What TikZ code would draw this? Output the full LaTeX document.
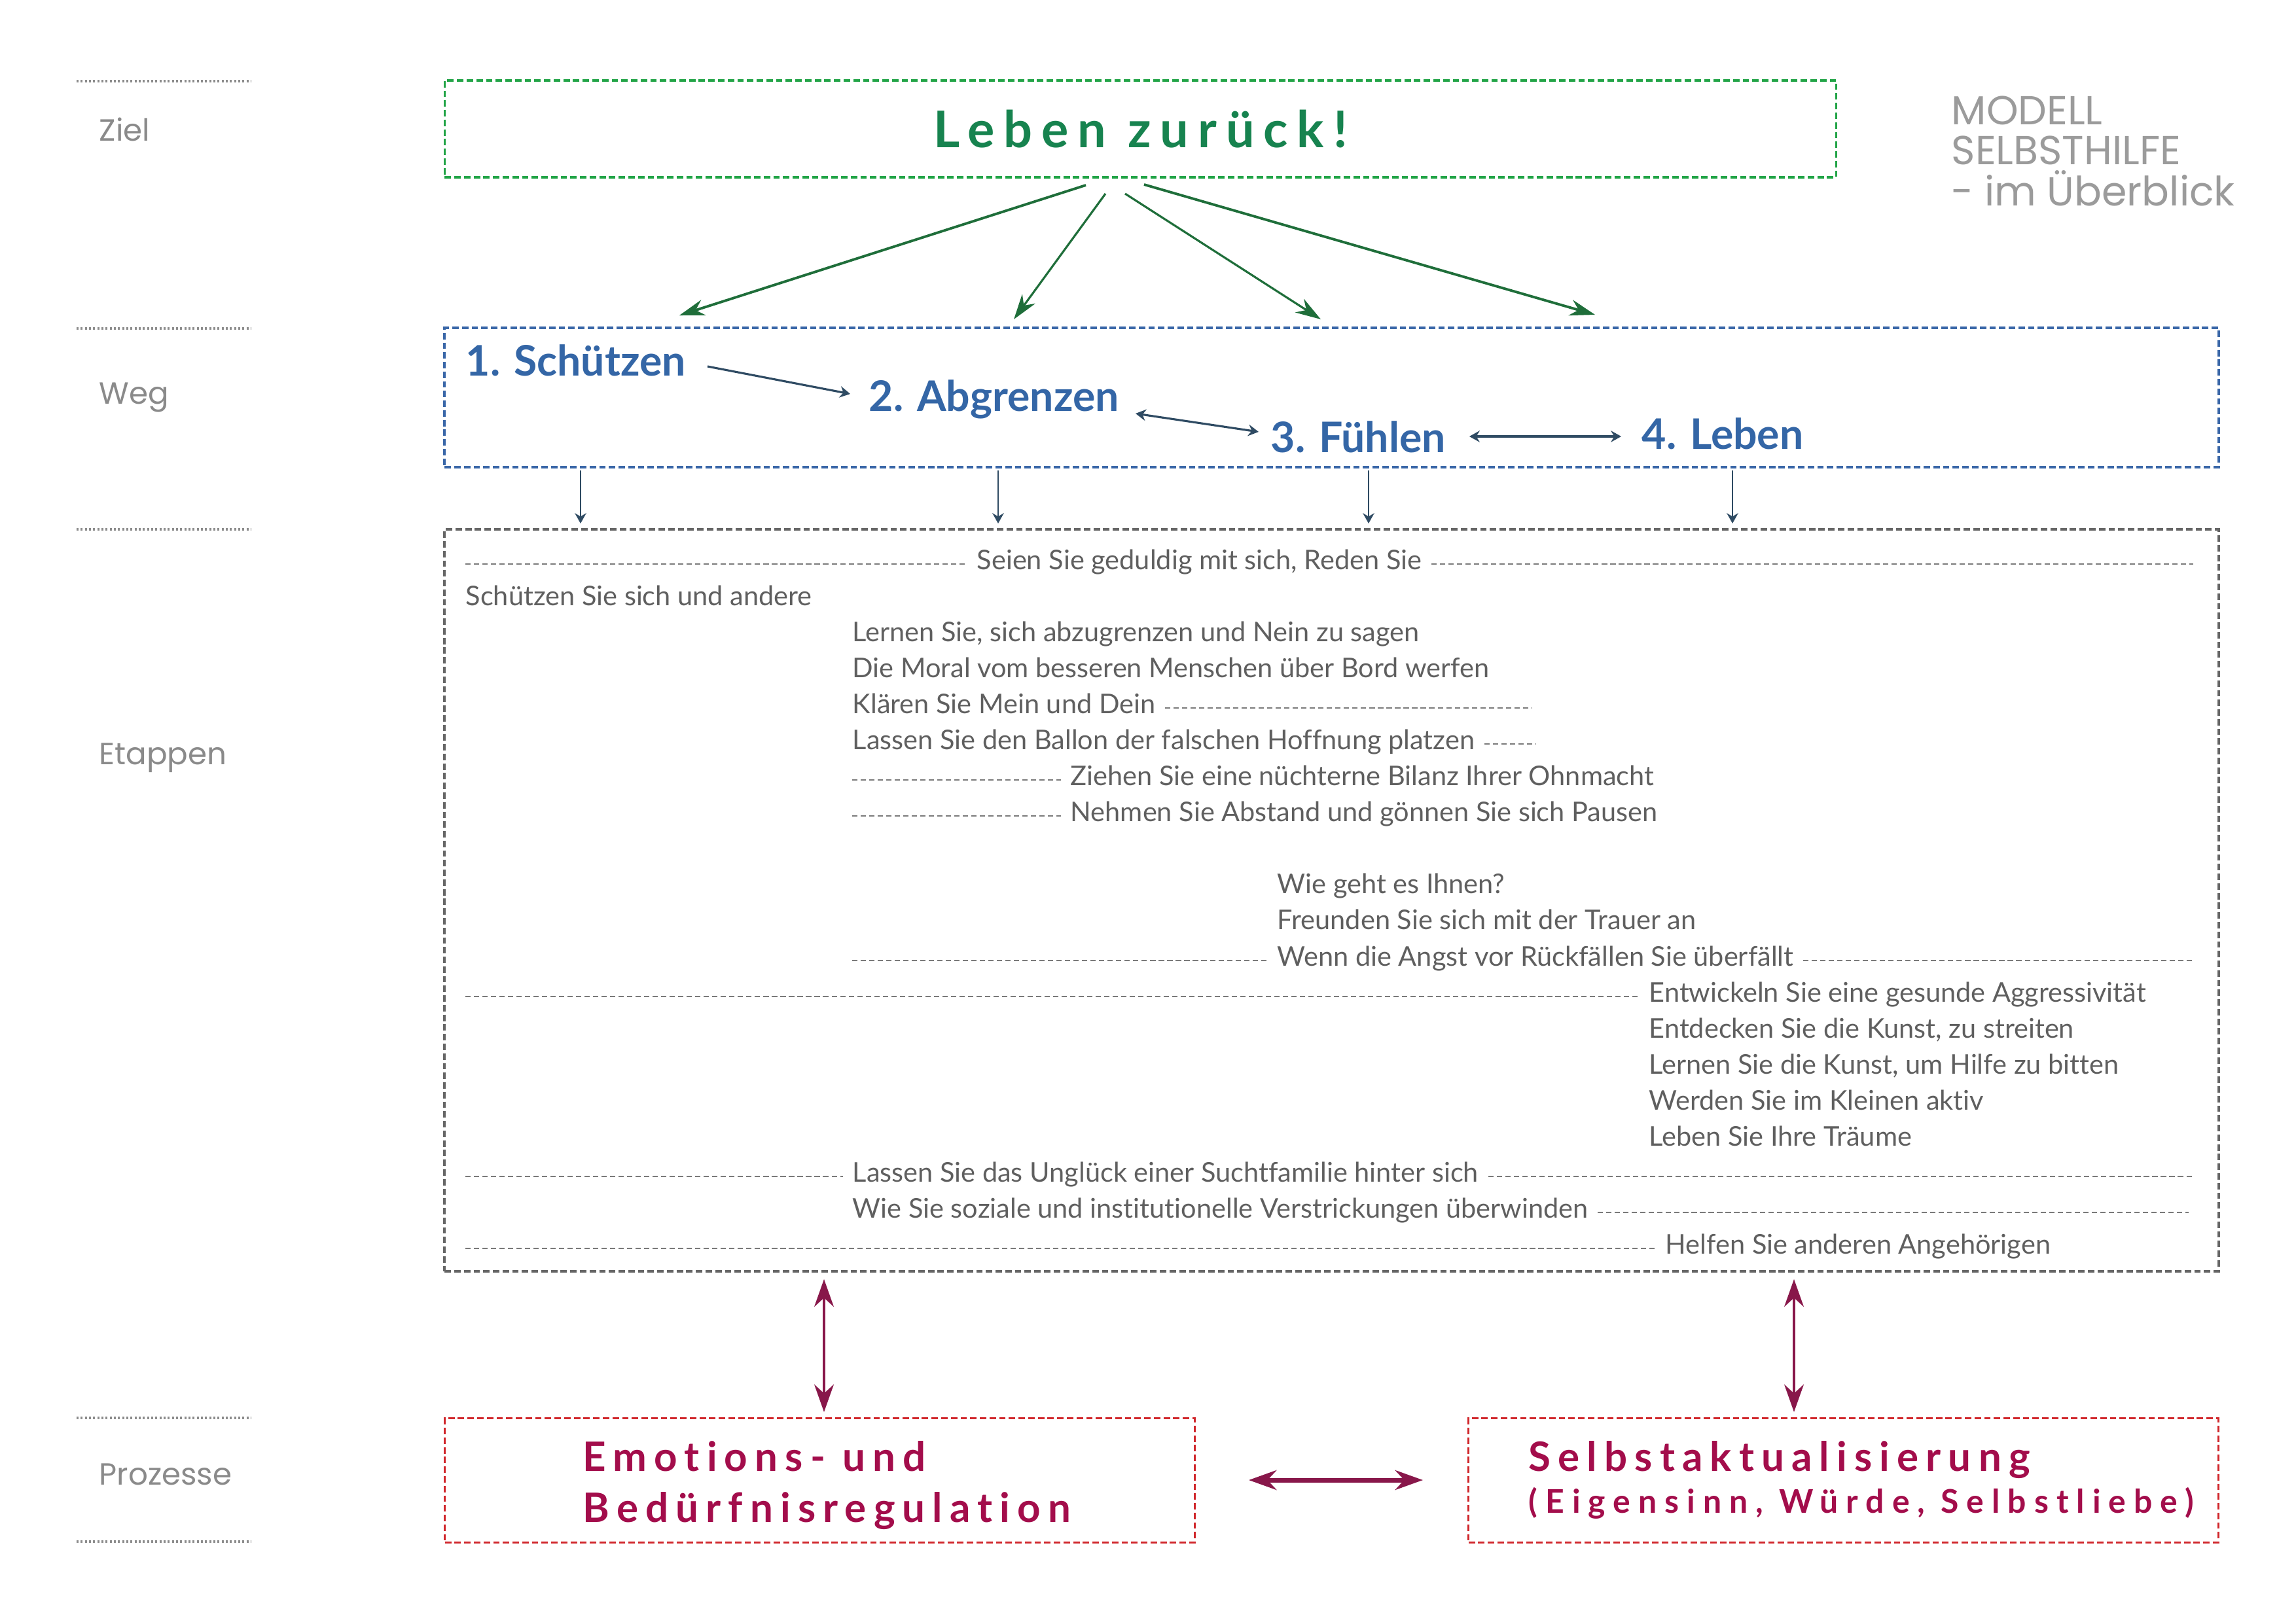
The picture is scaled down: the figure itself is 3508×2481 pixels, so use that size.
\documentclass[tikz,border=0pt]{standalone}
\usepackage{fontspec}
\usetikzlibrary{arrows.meta}
\setmainfont{Lato}[Ligatures=NoCommon]
\newfontfamily\labfont{Poppins}[Ligatures=NoCommon]
\newfontfamily\titlefont{Lato}[LetterSpace=18,Ligatures=NoCommon]
\newfontfamily\redfont{Lato}[LetterSpace=18,Ligatures=NoCommon]
\newfontfamily\redsmallfont{Lato}[LetterSpace=24,Ligatures=NoCommon]
\newcommand\fsz[1]{\fontsize{#1}{#1}\selectfont}
\definecolor{labgray}{HTML}{8A8A8A}
\definecolor{modgray}{HTML}{9B9B9B}
\definecolor{boxgreen}{HTML}{22A447}
\definecolor{arrgreen}{HTML}{1F6E3A}
\definecolor{titlegreen}{HTML}{17834F}
\definecolor{boxblue}{HTML}{3A67A8}
\definecolor{txtblue}{HTML}{3466A6}
\definecolor{arrslate}{HTML}{2F4B63}
\definecolor{boxgray}{HTML}{666666}
\definecolor{bodytxt}{HTML}{5F5F5F}
\definecolor{dashgray}{HTML}{7A7A7A}
\definecolor{boxred}{HTML}{D0262B}
\definecolor{txtred}{HTML}{A30D4B}
\definecolor{arrmag}{HTML}{88174A}
\definecolor{dotgray}{HTML}{8C8C8C}
\begin{document}
\begin{tikzpicture}[x=0.01cm,y=-0.01cm,
  body/.style={anchor=mid west, inner sep=0pt, text=bodytxt, font=\fsz{11.8pt}},
  dline/.style={draw=dashgray, line width=0.6pt, dash pattern=on 2.3pt off 1.4pt},
  sidelab/.style={anchor=base west, inner sep=0pt, text=labgray, font=\labfont\fsz{13.3pt}},
  sepline/.style={draw=dotgray, line width=0.9pt, dash pattern=on 0.9pt off 0.9pt},
  dbox/.style={line width=1pt, dash pattern=on 2.8pt off 1.4pt, inner sep=0pt, fill=none},
  wegtxt/.style={anchor=base west, inner sep=0pt, text=txtblue, font=\bfseries\fsz{18.3pt}},
  redtxt/.style={anchor=base west, inner sep=0pt, text=txtred, font=\redfont\bfseries\fsz{17.6pt}},
  modtxt/.style={anchor=base west, inner sep=0pt, text=modgray, font=\labfont\fsz{17.6pt}},
  greenarr/.style={draw=arrgreen, line width=1.1pt, -{Stealth[length=11pt,width=7pt]}},
  slatetip/.tip={Stealth[length=4.5pt,width=5pt,inset=1.5pt]},
  slatearr/.style={draw=arrslate, line width=0.7pt, -slatetip},
  slatedbl/.style={draw=arrslate, line width=0.9pt, slatetip-slatetip},
  magtip/.tip={Stealth[length=12pt,width=8.5pt]},
  magarr/.style={draw=arrmag, line width=1pt, magtip-magtip}
]
\useasboundingbox (0,0) rectangle (3508,2481);

% left separators and labels
\foreach \yy in {124,502,809,2167,2356}{
  \draw[sepline] (117,\yy) -- (384,\yy);
}
\node[sidelab] (lziel) at (151,215) {Ziel};
\node[sidelab] (lweg) at (151,617) {Weg};
\node[sidelab] (letap) at (151,1168) {Etappen};
\node[sidelab] (lproz) at (151,2269) {Prozesse};

% title top right
\node[modtxt] (mod1) at (2981,190) {MODELL};
\node[modtxt] (mod2) at (2981,251) {SELBSTHILFE};
\node[modtxt] (mod3) at (2981,314) {- im Überblick};

% boxes
\node[dbox, draw=boxgreen, minimum width=21.25cm, minimum height=1.48cm, text=titlegreen, font=\titlefont\bfseries\fsz{22pt}] (ziel) at (1742.5,197) {Leben zurück!};
\node[dbox, draw=boxblue, minimum width=27.09cm, minimum height=2.13cm] (weg) at (2034.5,607.5) {};
\node[dbox, draw=boxgray, minimum width=27.09cm, minimum height=11.33cm] (etap) at (2034.5,1376) {};
\node[dbox, draw=boxred, minimum width=11.45cm, minimum height=1.90cm] (emo) at (1252.5,2262.5) {};
\node[dbox, draw=boxred, minimum width=11.45cm, minimum height=1.90cm] (selbst) at (2816.5,2262.5) {};

% Weg texts
\node[wegtxt] (s1) at (711,574) {1. Schützen};
\node[wegtxt] (s2) at (1327,628) {2. Abgrenzen};
\node[wegtxt] (s3) at (1941,691) {3. Fühlen};
\node[wegtxt] (s4) at (2508,686) {4. Leben};

\coordinate (a12s) at (1081,560);
\coordinate (a12e) at (1299,602);
\coordinate (a23s) at (1735,632);
\coordinate (a23e) at (1923,660);
\coordinate (a34s) at (2245,667);
\coordinate (a34e) at (2477,667);
\draw[slatearr, line width=0.9pt] (a12s) -- (a12e);
\draw[slatedbl] (a23s) -- (a23e);
\draw[slatedbl, line width=1.4pt] (a34s) -- (a34e);

% green arrows
\coordinate (g1s) at (1659,283);
\coordinate (g2s) at (1689,296);
\coordinate (g3s) at (1719,296);
\coordinate (g4s) at (1748,282);
\coordinate (g1e) at (1038,482);
\coordinate (g2e) at (1549,488);
\coordinate (g3e) at (2018,488);
\coordinate (g4e) at (2437,481);
\draw[greenarr] (g1s) -- (g1e);
\draw[greenarr, line width=0.9pt] (g2s) -- (g2e);
\draw[greenarr, line width=0.9pt] (g3s) -- (g3e);
\draw[greenarr] (g4s) -- (g4e);

% down arrows
\foreach \xx/\nm in {887/d1,1525/d2,2091/d3,2647/d4}{
  \coordinate (\nm s) at (\xx,719);
  \coordinate (\nm e) at (\xx,800);
  \draw[slatearr, line width=0.6pt] (\nm s) -- (\nm e);
}

% Etappen texts
\node[body] (t0) at (1492,862) {Seien Sie geduldig mit sich, Reden Sie};
\draw[dline] (711,862) -- ([xshift=-4pt]t0.mid west);
\draw[dline] ([xshift=4pt]t0.mid east) -- (3351,862);
\node[body] (t1) at (711,917) {Schützen Sie sich und andere};
\node[body] (t2) at (1302,972) {Lernen Sie, sich abzugrenzen und Nein zu sagen};
\node[body] (t3) at (1302,1027) {Die Moral vom besseren Menschen über Bord werfen};
\node[body] (t4) at (1302,1082) {Klären Sie Mein und Dein};
\draw[dline] ([xshift=4pt]t4.mid east) -- (2340,1082);
\node[body] (t5) at (1302,1137) {Lassen Sie den Ballon der falschen Hoffnung platzen};
\draw[dline] ([xshift=4pt]t5.mid east) -- (2347,1137);
\node[body] (t6) at (1635,1192) {Ziehen Sie eine nüchterne Bilanz Ihrer Ohnmacht};
\draw[dline] (1302,1192) -- ([xshift=-4pt]t6.mid west);
\node[body] (t7) at (1635,1247) {Nehmen Sie Abstand und gönnen Sie sich Pausen};
\draw[dline] (1302,1247) -- ([xshift=-4pt]t7.mid west);
\node[body] (t9) at (1951,1357) {Wie geht es Ihnen?};
\node[body] (t10) at (1951,1412) {Freunden Sie sich mit der Trauer an};
\node[body] (t11) at (1951,1468) {Wenn die Angst vor Rückfällen Sie überfällt};
\draw[dline] (1302,1468) -- ([xshift=-4pt]t11.mid west);
\draw[dline] ([xshift=4pt]t11.mid east) -- (3351,1468);
\node[body] (t12) at (2519,1523) {Entwickeln Sie eine gesunde Aggressivität};
\draw[dline] (711,1523) -- ([xshift=-4pt]t12.mid west);
\node[body] (t13) at (2519,1578) {Entdecken Sie die Kunst, zu streiten};
\node[body] (t14) at (2519,1633) {Lernen Sie die Kunst, um Hilfe zu bitten};
\node[body] (t15) at (2519,1688) {Werden Sie im Kleinen aktiv};
\node[body] (t16) at (2519,1743) {Leben Sie Ihre Träume};
\node[body] (t17) at (1302,1798) {Lassen Sie das Unglück einer Suchtfamilie hinter sich};
\draw[dline] (711,1798) -- ([xshift=-4pt]t17.mid west);
\draw[dline] ([xshift=4pt]t17.mid east) -- (3349,1798);
\node[body] (t18) at (1302,1853) {Wie Sie soziale und institutionelle Verstrickungen überwinden};
\draw[dline] ([xshift=4pt]t18.mid east) -- (3344,1853);
\node[body] (t19) at (2544,1908) {Helfen Sie anderen Angehörigen};
\draw[dline] (711,1908) -- ([xshift=-4pt]t19.mid west);

% process texts
\node[redtxt] (p1) at (890,2248) {Emotions- und};
\node[redtxt] (p2) at (890,2326) {Bedürfnisregulation};
\node[redtxt] (p3) at (2335,2248) {Selbstaktualisierung};
\node[anchor=base west, inner sep=0pt, text=txtred, font=\redsmallfont\bfseries\fsz{14.2pt}] (p4) at (2335,2312) {(Eigensinn, Würde, Selbstliebe)};

% magenta arrows
\coordinate (m1s) at (1259,1955);
\coordinate (m1e) at (1259,2158);
\coordinate (m2s) at (2741,1955);
\coordinate (m2e) at (2741,2158);
\coordinate (m3s) at (1908,2262);
\coordinate (m3e) at (2174,2262);
\draw[magarr] (m1s) -- (m1e);
\draw[magarr] (m2s) -- (m2e);
\draw[magarr, line width=2pt] (m3s) -- (m3e);
\end{tikzpicture}
\end{document}
